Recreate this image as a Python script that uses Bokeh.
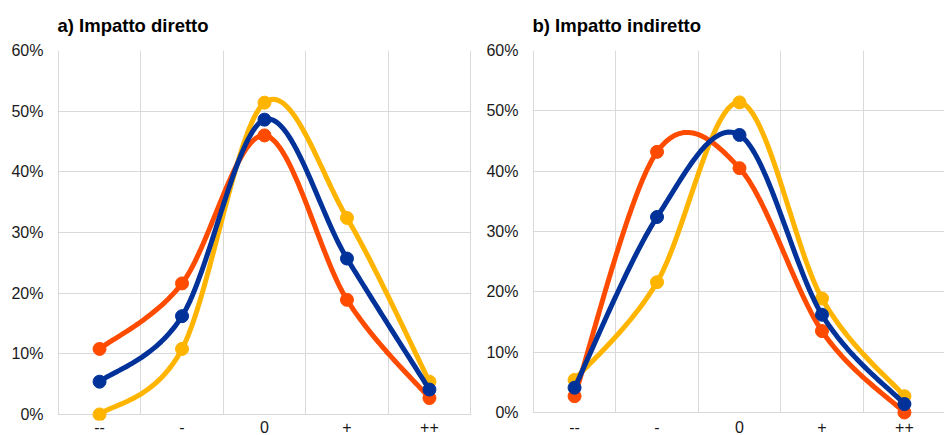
import numpy as np
from bokeh.plotting import figure
from bokeh.layouts import row
from bokeh.models import Range1d, FixedTicker, PrintfTickFormatter
from bokeh.embed import file_html
from bokeh.resources import INLINE

categories = ["--", "-", "0", "+", "++"]
y_ticks = [0, 10, 20, 30, 40, 50, 60]

direct_orange = [10.8, 21.6, 46.0, 18.9, 2.7]
direct_blue = [5.4, 16.2, 48.6, 25.7, 4.1]
direct_yellow = [0.0, 10.8, 51.4, 32.4, 5.4]

indirect_orange = [2.7, 43.2, 40.5, 13.5, 0.0]
indirect_blue = [4.1, 32.4, 46.0, 16.2, 1.4]
indirect_yellow = [5.4, 21.6, 51.4, 18.9, 2.7]

ORANGE = "#FF4B00"
BLUE = "#003299"
YELLOW = "#FFB400"
FONT = "Liberation Sans"
GRID = "#d9d9d9"


def smooth(xs, ys, n=40):
    """Excel-like smoothed line: cubic Bezier segments with Catmull-Rom control points."""
    pts = np.column_stack([xs, ys]).astype(float)
    ext = np.vstack([pts[0], pts, pts[-1]])
    out = []
    t = np.linspace(0, 1, n)[:, None]
    for i in range(len(pts) - 1):
        p0, p1, p2, p3 = ext[i], ext[i + 1], ext[i + 2], ext[i + 3]
        c1 = p1 + (p2 - p0) / 6.0
        c2 = p2 - (p3 - p1) / 6.0
        seg = ((1 - t) ** 3) * p1 + 3 * ((1 - t) ** 2) * t * c1 + 3 * (1 - t) * t ** 2 * c2 + t ** 3 * p2
        if i > 0:
            seg = seg[1:]
        out.append(seg)
    arr = np.vstack(out)
    return arr[:, 0], arr[:, 1]


def make_panel(title, series, width, x_end, y_start, border_left, border_right, border_top):
    xpos = list(range(1, len(categories) + 1))
    p = figure(width=width, height=435,
               x_range=Range1d(0.49, x_end), y_range=Range1d(y_start, 60),
               output_backend="svg", toolbar_location=None,
               min_border_left=border_left, min_border_right=border_right,
               min_border_top=border_top, min_border_bottom=0)
    p.title.text = title
    p.title.text_font = FONT
    p.title.text_font_style = "bold"
    p.title.text_font_size = "18.5px"
    p.title.text_color = "#000000"
    p.title.align = "left"
    p.title.vertical_align = "top"
    p.title.offset = 0
    p.title.standoff = 26

    p.outline_line_color = None
    p.background_fill_color = "white"
    p.border_fill_color = "white"

    p.xaxis.ticker = FixedTicker(ticks=xpos)
    p.xaxis.major_label_overrides = {x: c for x, c in zip(xpos, categories)}
    p.yaxis.ticker = FixedTicker(ticks=y_ticks)
    p.yaxis.formatter = PrintfTickFormatter(format="%d%%")
    for ax in (p.xaxis, p.yaxis):
        ax.axis_line_color = None
        ax.major_tick_line_color = None
        ax.minor_tick_line_color = None
        ax.major_tick_out = 0
        ax.major_tick_in = 0
        ax.major_label_text_font = FONT
        ax.major_label_text_font_size = "16px"
        ax.major_label_text_color = "#1a1a1a"
    p.yaxis.major_label_standoff = 14
    p.xaxis.major_label_standoff = 0

    p.xgrid.ticker = FixedTicker(ticks=[x - 0.5 for x in xpos] + [xpos[-1] + 0.5])
    p.xgrid.grid_line_color = GRID
    p.xgrid.cross_bounds = (0, 60)
    p.ygrid.ticker = FixedTicker(ticks=y_ticks)
    p.ygrid.grid_line_color = GRID

    for vals, color in series:
        sx, sy = smooth(xpos, vals)
        p.line(sx, sy, line_color=color, line_width=5, line_join="round", line_cap="round")
        p.scatter(xpos, vals, size=13, fill_color=color, line_color=color)
    return p


left = make_panel("a) Impatto diretto",
                  [(direct_yellow, YELLOW), (direct_orange, ORANGE), (direct_blue, BLUE)],
                  width=476, x_end=5.51, y_start=-1.0,
                  border_left=57, border_right=5, border_top=50)
right = make_panel("b) Impatto indiretto",
                   [(indirect_yellow, YELLOW), (indirect_orange, ORANGE), (indirect_blue, BLUE)],
                   width=468, x_end=0.49 + 412 / 82.47, y_start=-1.33,
                   border_left=56, border_right=0, border_top=48)

layout = row(left, right)
open("out.html", "w").write(file_html(layout, INLINE))
